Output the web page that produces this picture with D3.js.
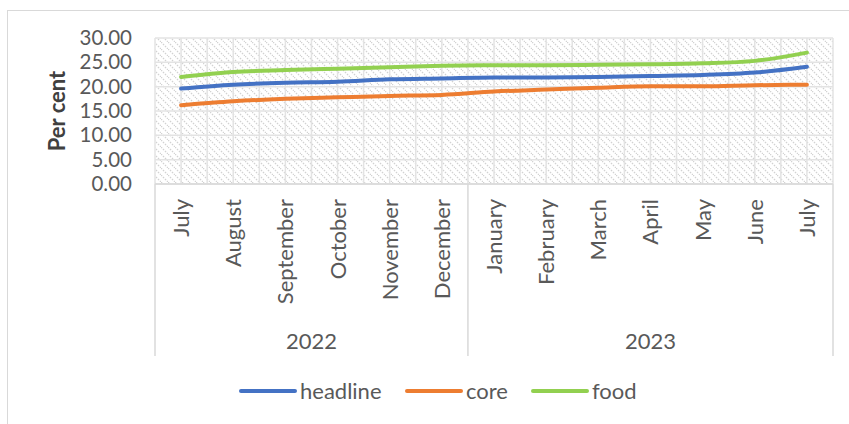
<!DOCTYPE html>
<html><head><meta charset="utf-8">
<script src="https://cdn.jsdelivr.net/npm/d3@7"></script>
<style>body{margin:0;background:#fff}svg{display:block;font-family:Lato,"Open Sans",sans-serif}</style>
</head><body>
<svg id="c" width="849" height="424"></svg>
<script>
const months = ["July","August","September","October","November","December","January","February","March","April","May","June","July"];
const years = ["2022","2023"];
const yearOfMonth = [0,0,0,0,0,0,1,1,1,1,1,1,1];
const headline = [19.6,20.4,20.8,21.0,21.5,21.7,21.9,21.9,22.0,22.2,22.4,22.9,24.1];
const core = [16.2,17.0,17.5,17.8,18.1,18.3,19.0,19.4,19.8,20.1,20.1,20.3,20.4];
const food = [22.0,23.0,23.4,23.7,24.0,24.3,24.4,24.4,24.5,24.6,24.8,25.3,27.0];
const yTicks = [0,5,10,15,20,25,30];
const seriesNames = ["headline","core","food"];
const seriesColors = ["#4472C4","#ED7D31","#92D050"];
const seriesData = [headline, core, food];

const FS = 22, FT = 20.5;
const FF = "Lato,'Open Sans',sans-serif";
const svg = d3.select("#c");
const L = 155, R = 833, T = 38, B = 184, AXB = 356;
const idx = d3.range(months.length);
const x = d3.scaleBand().domain(idx).range([L, R]);
const y = d3.scaleLinear().domain([0,30]).range([B, T]);
const cx = i => x(i) + x.bandwidth()/2;

// outer frame
svg.append("rect").attr("x",7.5).attr("y",10.5).attr("width",900).attr("height",500)
  .attr("fill","none").attr("stroke","#d9d9d9").attr("stroke-width",1);

// hatch pattern
const defs = svg.append("defs");
const pat = defs.append("pattern").attr("id","hatch").attr("patternUnits","userSpaceOnUse")
  .attr("width",7).attr("height",7);
pat.append("rect").attr("width",7).attr("height",7).attr("fill","#fff");
pat.append("path").attr("d","M0,0 L7,7 M-3.5,3.5 L0,7 M3.5,-3.5 L7,0")
  .attr("stroke","#d2d2d2").attr("stroke-width",1.2).attr("stroke-dasharray","1.6,1.2");
svg.append("rect").attr("x",L).attr("y",T).attr("width",R-L).attr("height",B-T).attr("fill","url(#hatch)");

// gridlines
const gridC = "#e3e3e3";
svg.append("g").selectAll("line").data(yTicks).join("line")
  .attr("x1",L).attr("x2",R).attr("y1",d=>y(d)).attr("y2",d=>y(d))
  .attr("stroke",gridC).attr("stroke-width",1.5);
const vx = [];
idx.forEach(i => { vx.push(x(i)); vx.push(cx(i)); });
vx.push(R);
svg.append("g").selectAll("line").data(vx).join("line")
  .attr("x1",d=>d).attr("x2",d=>d).attr("y1",T).attr("y2",B)
  .attr("stroke",gridC).attr("stroke-width",1.5);

// y axis labels
const yAxis = d3.axisLeft(y).tickValues(yTicks).tickFormat(d3.format(".2f")).tickSize(0).tickPadding(23);
const ya = svg.append("g").attr("transform",`translate(${L},0)`).call(yAxis);
ya.select(".domain").remove();
ya.selectAll("text").attr("font-size",FT).attr("fill","#595959").attr("font-family",FF);

svg.append("text").attr("transform",`translate(65,${(T+B)/2}) rotate(-90)`)
  .attr("text-anchor","middle").attr("font-size",22).attr("font-weight","bold").attr("fill","#404040")
  .text("Per cent");

// category axis lines
svg.append("line").attr("x1",L).attr("x2",R).attr("y1",B).attr("y2",B).attr("stroke","#d9d9d9").attr("stroke-width",1.5);
const sepX = [L, x(6), R];
svg.append("g").selectAll("line").data(sepX).join("line")
  .attr("x1",d=>d).attr("x2",d=>d).attr("y1",B).attr("y2",AXB)
  .attr("stroke","#d9d9d9").attr("stroke-width",1.5);

// month labels
svg.append("g").selectAll("text").data(idx).join("text")
  .attr("transform",i=>`translate(${cx(i)+8},199) rotate(-90)`)
  .attr("text-anchor","end").attr("font-size",FS).attr("fill","#595959")
  .text(i=>months[i]);

// year labels
years.forEach((yr, k) => {
  const first = yearOfMonth.indexOf(k), last = yearOfMonth.lastIndexOf(k);
  const mid = (x(first) + x(last) + x.bandwidth())/2;
  svg.append("text").attr("x",mid).attr("y",349).attr("text-anchor","middle")
    .attr("font-size",FS).attr("fill","#595959").text(yr);
});

// lines
const line = d3.line().x((d,i)=>cx(i)).y(d=>y(d)).curve(d3.curveMonotoneX);
seriesData.forEach((s, k) => {
  svg.append("path").datum(s).attr("d",line).attr("fill","none")
    .attr("stroke",seriesColors[k]).attr("stroke-width",4).attr("stroke-linecap","round");
});

// legend
const legX = [241, 407, 533];
seriesNames.forEach((n, k) => {
  const g = svg.append("g").attr("transform",`translate(${legX[k]},391)`);
  g.append("line").attr("x1",0).attr("x2",54).attr("y1",0).attr("y2",0)
    .attr("stroke",seriesColors[k]).attr("stroke-width",4).attr("stroke-linecap","round");
  g.append("text").attr("x",59).attr("y",8).attr("font-size",FS).attr("fill","#595959").text(n);
});
</script>
</body></html>
